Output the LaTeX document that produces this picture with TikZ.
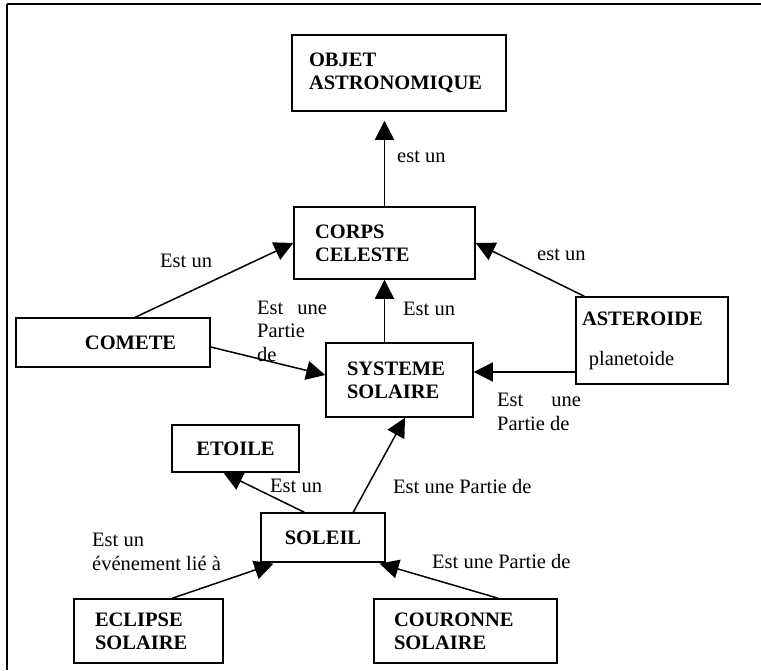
\documentclass[tikz,border=0pt]{standalone}
\usepackage{fontspec}
\setmainfont{Liberation Serif}
\usetikzlibrary{arrows.meta,calc}
\begin{document}
\begin{tikzpicture}[x=1pt,y=-1pt,
  box/.style={draw,line width=1.5pt,inner xsep=0pt,inner ysep=0pt,font=\fontsize{20.5}{23}\selectfont\bfseries,align=left},
  lbl/.style={inner sep=0pt,font=\fontsize{20.5}{23.5}\selectfont,align=left,anchor=west},
  arr/.style={line width=1.5pt,-{Triangle[length=19pt,width=19pt]}}]
\useasboundingbox (0,0) rectangle (761,670);
% frame
\draw[line width=2pt] (7,4) -- (761,4);
\draw[line width=1.3pt] (7,4) -- (7,670);
% boxes
\node[box,minimum width=214pt,minimum height=76pt,text width=180pt] (obj) at (399,73) {OBJET\\ASTRONOMIQUE};
\node[box,minimum width=181pt,minimum height=72pt,text width=139pt] (corps) at (384.5,243) {CORPS\\CELESTE};
\node[box,minimum width=194pt,minimum height=49pt,text width=180pt] (comete) at (113,342.5) {\hspace*{62pt}COMETE};
\node[box,minimum width=147pt,minimum height=74pt,text width=105pt] (sys) at (399.5,380) {SYSTEME\\SOLAIRE};
\node[box,minimum width=152pt,minimum height=87pt,text width=140pt] (ast) at (652,340.5) {ASTEROIDE\\[17pt]\mdseries\ planetoide};
\node[box,minimum width=127pt,minimum height=47pt,align=center] (etoile) at (235.5,448.5) {ETOILE};
\node[box,minimum width=124pt,minimum height=49pt,align=center] (soleil) at (323,537.5) {SOLEIL};
\node[box,minimum width=149pt,minimum height=64pt,text width=107pt] (eclipse) at (148.5,631) {ECLIPSE\\SOLAIRE};
\node[box,minimum width=183pt,minimum height=64pt,text width=143pt] (couronne) at (465.5,631) {COURONNE\\SOLAIRE};
% connectors
\draw[arr,shorten >=9pt] (corps.north) -- (corps.north |- obj.south);
\draw[arr] (sys.north -| corps.south) -- (corps.south);
\draw[arr] ([xshift=120pt]comete.north west) -- (corps.west);
\draw[arr] ([yshift=-4.5pt]comete.east) -- ([yshift=5pt]sys.west);
\draw[arr] ([xshift=9pt]ast.north west) -- (corps.east);
\coordinate (astL) at ([yshift=-31.5pt]ast.west);
\draw[arr] (astL) -- (astL -| sys.east);
\draw[arr] ([xshift=44pt]soleil.north west) -- ([xshift=-12pt]etoile.south);
\draw[arr] ([xshift=93pt]soleil.north west) -- ([xshift=5.5pt]sys.south);
\draw[arr,shorten >=3pt] ([xshift=99pt]eclipse.north west) -- ([xshift=16pt]soleil.south west);
\draw[arr,shorten >=3pt] ([xshift=125pt]couronne.north west) -- ([xshift=-9pt]soleil.south east);
% labels
\node[lbl] (l1) at (397,157) {est un};
\node[lbl] (l2) at (160,261) {Est un};
\node[lbl] (l3) at (257,331) {Est\hspace{14pt}une\\Partie\\de};
\node[lbl] (l4) at (403,309) {Est un};
\node[lbl] (l5) at (537,255) {est un};
\node[lbl] (l6) at (497,412) {Est\hspace{28pt}une\\Partie de};
\node[lbl] (l7) at (270,486) {Est un};
\node[lbl] (l8) at (393,486) {Est une Partie de};
\node[lbl] (l9) at (92,552) {Est un\\événement lié à};
\node[lbl] (l10) at (432,561) {Est une Partie de};
\end{tikzpicture}
\end{document}
